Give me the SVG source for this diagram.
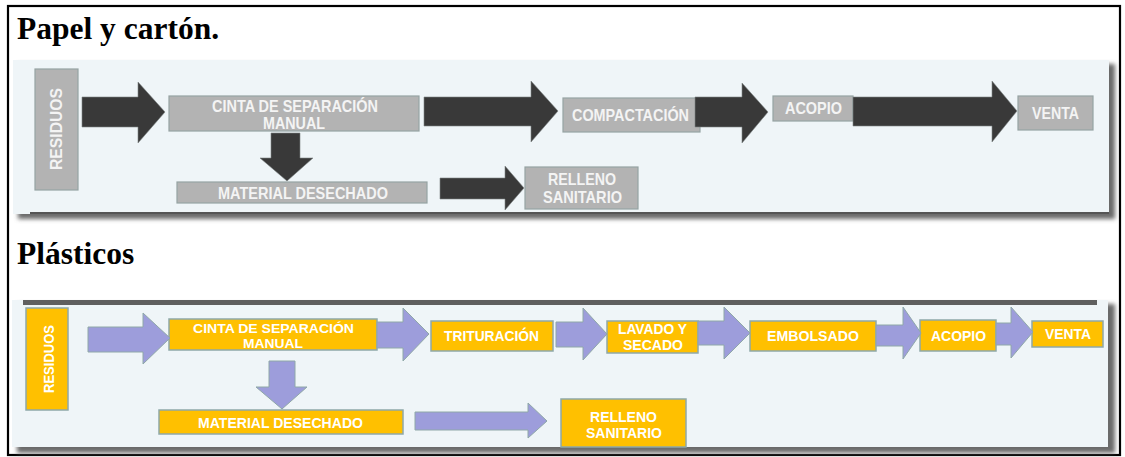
<svg xmlns="http://www.w3.org/2000/svg" width="1125" height="457" viewBox="0 0 1125 457">
  <defs>
    <filter id="shadow" x="-5%" y="-20%" width="110%" height="140%">
      <feGaussianBlur stdDeviation="2"/>
    </filter>
    <style>
      .title { font-family: "Liberation Serif", "Times New Roman", serif; font-weight: bold; font-size: 31.5px; fill: #000; }
      .panel { fill: #eff5f8; }
      .shade { fill: #6a6a6a; filter: url(#shadow); }
      .gbox { fill: #b3b3b3; stroke: #95a3a3; stroke-width: 1.2; }
      .obox { fill: #ffc000; stroke: #8fa8a8; stroke-width: 1.5; }
      .garrow { fill: #393939; stroke: #7d8585; stroke-width: 0.6; }
      .parrow { fill: #9d9ddb; stroke: #8fa8a8; stroke-width: 1; }
      .gtxt { font-family: "Liberation Sans", Arial, sans-serif; font-weight: bold; font-size: 16.5px; fill: #f4f4f4; text-anchor: middle; }
      .otxt { font-family: "Liberation Sans", Arial, sans-serif; font-weight: bold; font-size: 15px; fill: #ffffff; text-anchor: middle; }
      .otxt.tight { font-size: 13.5px; }
    </style>
  </defs>

  <rect x="0" y="0" width="1125" height="457" fill="#ffffff"/>
  <!-- outer frame -->
  <rect x="8" y="6" width="1112" height="449" fill="none" stroke="#000" stroke-width="2.2"/>

  <!-- section titles -->
  <text class="title" x="17" y="39">Papel y cartón.</text>
  <text class="title" x="17" y="264">Plásticos</text>

  <!-- panel backgrounds -->
  <g id="panel-papel">
    <rect class="shade" x="18" y="64" width="1097" height="155"/>
    <rect class="panel" x="13" y="60" width="1096" height="154"/>
    <rect x="30" y="212" width="1079" height="2" fill="#555"/>
  </g>
  <g id="panel-plasticos">
    <rect class="shade" x="17" y="304" width="1098" height="149"/>
    <rect class="panel" x="12" y="300" width="1096" height="147"/>
    <rect x="23" y="300" width="1074" height="5" fill="#5f5f5f"/>
  </g>

  <!-- Papel y cartón: nodes -->
  <g id="p-residuos">
    <rect class="gbox" x="35" y="69" width="43" height="121"/>
    <text class="gtxt" transform="translate(61.5,129) rotate(-90)" textLength="82" lengthAdjust="spacingAndGlyphs">RESIDUOS</text>
  </g>
  <g id="p-cinta">
    <rect class="gbox" x="169" y="96" width="250" height="35"/>
    <text class="gtxt" x="295" y="112" textLength="166" lengthAdjust="spacingAndGlyphs">CINTA DE SEPARACIÓN</text>
    <text class="gtxt" x="294" y="128.5" textLength="62" lengthAdjust="spacingAndGlyphs">MANUAL</text>
  </g>
  <g id="p-compactacion">
    <rect class="gbox" x="563" y="98" width="137" height="34"/>
    <text class="gtxt" x="630.5" y="121" textLength="117" lengthAdjust="spacingAndGlyphs">COMPACTACIÓN</text>
  </g>
  <g id="p-acopio">
    <rect class="gbox" x="773" y="96" width="80" height="25"/>
    <text class="gtxt" x="813.5" y="114" textLength="57" lengthAdjust="spacingAndGlyphs">ACOPIO</text>
  </g>
  <g id="p-venta">
    <rect class="gbox" x="1018" y="96" width="75" height="34"/>
    <text class="gtxt" x="1055.5" y="119" textLength="47" lengthAdjust="spacingAndGlyphs">VENTA</text>
  </g>
  <g id="p-material">
    <rect class="gbox" x="177" y="182" width="250" height="21"/>
    <text class="gtxt" x="303" y="198.5" textLength="170" lengthAdjust="spacingAndGlyphs">MATERIAL DESECHADO</text>
  </g>
  <g id="p-relleno">
    <rect class="gbox" x="525" y="167" width="113" height="42"/>
    <text class="gtxt" x="582" y="184.5" textLength="68" lengthAdjust="spacingAndGlyphs">RELLENO</text>
    <text class="gtxt" x="582.5" y="203" textLength="79" lengthAdjust="spacingAndGlyphs">SANITARIO</text>
  </g>

  <!-- Plásticos: nodes -->
  <g id="q-residuos">
    <rect class="obox" x="26" y="308" width="42" height="102"/>
    <text class="otxt" transform="translate(53.5,359) rotate(-90)" textLength="68" lengthAdjust="spacingAndGlyphs">RESIDUOS</text>
  </g>
  <g id="q-cinta">
    <rect class="obox" x="169" y="319" width="208" height="31"/>
    <text class="otxt tight" x="273.5" y="332.5" textLength="161" lengthAdjust="spacingAndGlyphs">CINTA DE SEPARACIÓN</text>
    <text class="otxt tight" x="273" y="347.5" textLength="60" lengthAdjust="spacingAndGlyphs">MANUAL</text>
  </g>
  <g id="q-trituracion">
    <rect class="obox" x="431" y="321" width="122" height="30"/>
    <text class="otxt" x="491.5" y="341" textLength="95" lengthAdjust="spacingAndGlyphs">TRITURACIÓN</text>
  </g>
  <g id="q-lavado">
    <rect class="obox" x="607" y="321" width="91" height="32"/>
    <text class="otxt" x="652.5" y="333.5" textLength="69" lengthAdjust="spacingAndGlyphs">LAVADO Y</text>
    <text class="otxt" x="653" y="349.5" textLength="60" lengthAdjust="spacingAndGlyphs">SECADO</text>
  </g>
  <g id="q-embolsado">
    <rect class="obox" x="750" y="321" width="126" height="30"/>
    <text class="otxt" x="813" y="341" textLength="92" lengthAdjust="spacingAndGlyphs">EMBOLSADO</text>
  </g>
  <g id="q-acopio">
    <rect class="obox" x="920" y="320" width="76" height="31"/>
    <text class="otxt" x="958.5" y="340.5" textLength="55" lengthAdjust="spacingAndGlyphs">ACOPIO</text>
  </g>
  <g id="q-venta">
    <rect class="obox" x="1032" y="321" width="71" height="26"/>
    <text class="otxt" x="1068" y="338.5" textLength="46" lengthAdjust="spacingAndGlyphs">VENTA</text>
  </g>
  <g id="q-material">
    <rect class="obox" x="159" y="410" width="244" height="24"/>
    <text class="otxt" x="280.5" y="427.5" textLength="165" lengthAdjust="spacingAndGlyphs">MATERIAL DESECHADO</text>
  </g>
  <g id="q-relleno">
    <rect class="obox" x="561" y="399" width="125" height="48"/>
    <text class="otxt" x="623.5" y="421.5" textLength="67" lengthAdjust="spacingAndGlyphs">RELLENO</text>
    <text class="otxt" x="624" y="437.5" textLength="76" lengthAdjust="spacingAndGlyphs">SANITARIO</text>
  </g>

  <!-- connectors: block arrows -->
  <g id="connectors">
    <!-- Papel y cartón -->
    <polygon class="garrow" points="82,97 138,97 138,82 165,112 138,143 138,127 82,127"/>
    <polygon class="garrow" points="424,97 531,97 531,81 558,111 531,142 531,126 424,126"/>
    <polygon class="garrow" points="695,97 742,97 742,83 768,112 742,143 742,127 695,127"/>
    <polygon class="garrow" points="853,97 992,97 992,81 1017,111 992,142 992,126 853,126"/>
    <polygon class="garrow" points="271,133 300,133 300,158 313,158 287,181 260,158 271,158"/>
    <polygon class="garrow" points="440,178 505,178 505,166 524,188 505,210 505,199 440,199"/>
    <!-- Plásticos -->
    <polygon class="parrow" points="88,327 143,327 143,313 170,338 143,364 143,352 88,352"/>
    <polygon class="parrow" points="377,322 403,322 403,308 429,334 403,361 403,348 377,348"/>
    <polygon class="parrow" points="556,322 583,322 583,308 607,334 583,360 583,347 556,347"/>
    <polygon class="parrow" points="698,321 724,321 724,307 750,333 724,359 724,345 698,345"/>
    <polygon class="parrow" points="876,325 903,325 903,307 921,333 903,359 903,346 876,346"/>
    <polygon class="parrow" points="996,323 1011,323 1011,307 1033,332 1011,358 1011,345 996,345"/>
    <polygon class="parrow" points="269,361 295,361 295,387 307,387 282,409 256,387 269,387"/>
    <polygon class="parrow" points="415,412 528,412 528,403 547,421 528,438 528,430 415,430"/>
  </g>
</svg>
